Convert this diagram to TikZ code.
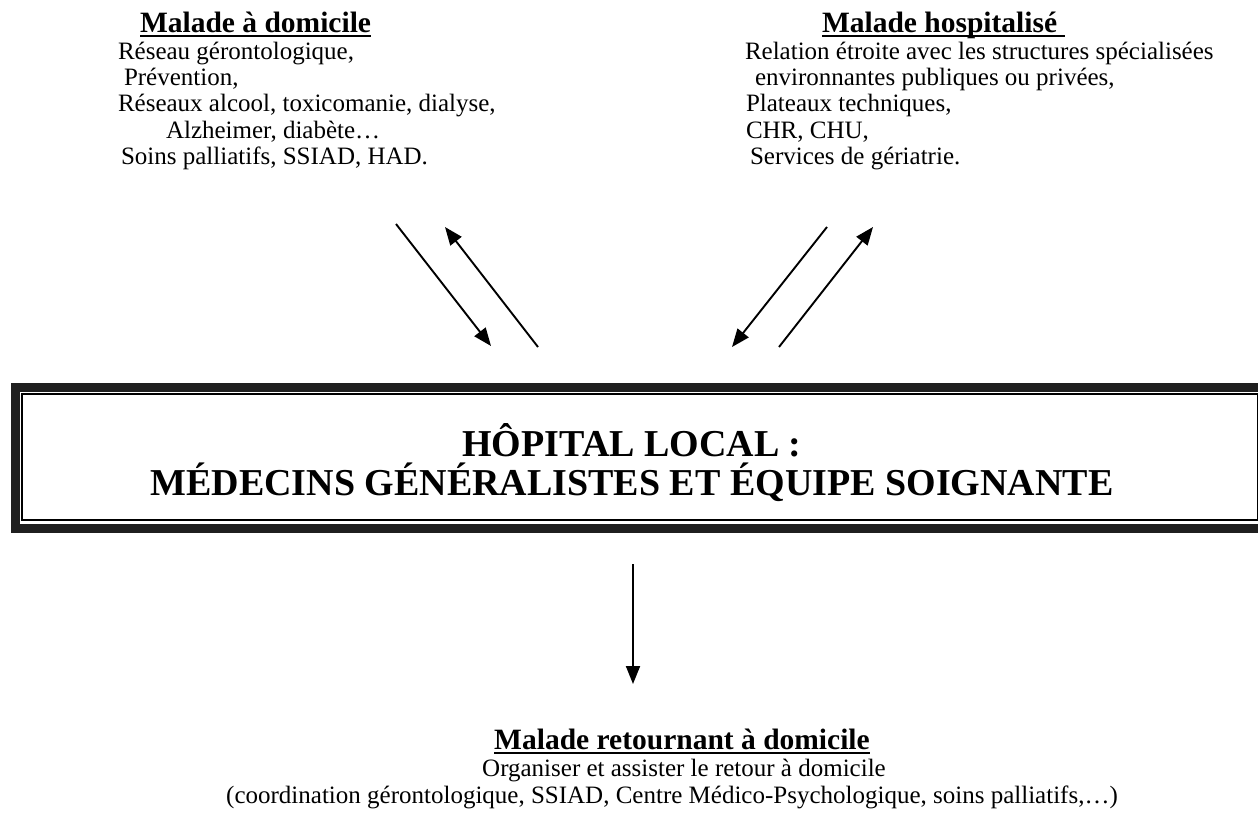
\documentclass[tikz,border=0pt]{standalone}
\usepackage{fontspec}
\setmainfont{Liberation Serif}
\usetikzlibrary{arrows.meta}
\begin{document}
\begin{tikzpicture}[x=1pt,y=-1pt,
  every node/.style={inner sep=0pt, outer sep=0pt},
  body/.style={anchor=base west, font=\rmfamily\fontsize{25}{28}\selectfont},
  ttl/.style={anchor=base west, font=\rmfamily\bfseries\fontsize{29.5}{33}\selectfont},
  ctr/.style={anchor=base, font=\rmfamily\fontsize{25}{28}\selectfont},
  uline/.style={line width=2.2pt},
  arr/.style={line width=1.9pt, -{Triangle[length=18pt,width=14pt]}},
  bigtxt/.style={anchor=base, font=\rmfamily\bfseries\fontsize{38}{42}\selectfont},
]
\useasboundingbox (0,0) rectangle (1258,814);

% left block
\node[ttl] (t1) at (140,32) {Malade à domicile};
\draw[uline] ([yshift=-4pt]t1.base west) -- ([yshift=-4pt]t1.base east);
\node[body] (l1a) at (118,59) {Réseau gérontologique,};
\node[body] (l1b) at (124,85) {Prévention,};
\node[body] (l1c) at (118,111) {Réseaux alcool, toxicomanie, dialyse,};
\node[body] (l1d) at (166,138) {Alzheimer, diabète…};
\node[body] (l1e) at (121,164) {Soins palliatifs, SSIAD, HAD.};

% right block
\node[ttl] (t2) at (822,32) {Malade hospitalisé};
\draw[uline] ([yshift=-4pt]t2.base west) -- ([xshift=8pt,yshift=-4pt]t2.base east);
\node[body] (l2a) at (745,59) {Relation étroite avec les structures spécialisées};
\node[body] (l2b) at (755,85) {environnantes publiques ou privées,};
\node[body] (l2c) at (746,111) {Plateaux techniques,};
\node[body] (l2d) at (746,138) {CHR, CHU,};
\node[body] (l2e) at (750,164) {Services de gériatrie.};

% central box
\draw[line width=9pt, black!88] (15,387.5) rectangle (1275,528.5);
\node[draw, line width=2pt, anchor=north west, minimum width=1236pt, minimum height=126pt] (box) at (22,394) {};
\node[bigtxt] (h1) at (632,456) {HÔPITAL LOCAL :};
\node[bigtxt] (h2) at (632,495) {MÉDECINS GÉNÉRALISTES ET ÉQUIPE SOIGNANTE};

% arrows
\coordinate (a1s) at (396,224); \coordinate (a1e) at (491,346);
\coordinate (a2s) at (538,347); \coordinate (a2e) at (445,227);
\coordinate (a3s) at (827,227); \coordinate (a3e) at (732,347);
\coordinate (a4s) at (779,347); \coordinate (a4e) at (873,227);
\draw[arr] (a1s) -- (a1e);
\draw[arr] (a2s) -- (a2e);
\draw[arr] (a3s) -- (a3e);
\draw[arr] (a4s) -- (a4e);

% bottom block
\node[ttl, anchor=base] (t3) at (682,749) {Malade retournant à domicile};
\draw[uline] ([yshift=-4pt]t3.base west) -- ([yshift=-4pt]t3.base east);
\coordinate (a5s) at (633,564);
\coordinate (a5e) at (633,684);
\draw[arr] (a5s) -- (a5e);
\node[ctr] (l3a) at (684,776) {Organiser et assister le retour à domicile};
\node[ctr] (l3b) at (672,803) {(coordination gérontologique, SSIAD, Centre Médico-Psychologique, soins palliatifs,…)};
\end{tikzpicture}
\end{document}
